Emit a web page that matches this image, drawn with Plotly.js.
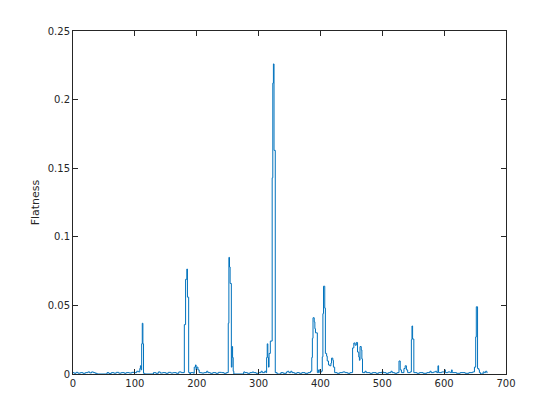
<!DOCTYPE html>
<html>
<head>
<meta charset="utf-8">
<script src="https://cdn.plot.ly/plotly-3.0.1.min.js"></script>
<style>html,body{margin:0;padding:0;background:#fff;}#chart{width:560px;height:420px;}</style>
</head>
<body>
<div id="chart"></div>
<script>
// Step breakpoints (frame index where each level starts) and flatness levels
const frameIdx = [0,2,5,8,12,16,20,24,27,30,33,36,39,55,58,62,66,70,74,78,83,86,91,95,99,103,106,108,109,110,111,112,113,114,116,
  130,134,138,141,145,150,154,158,162,167,171,175,180,182,184,185,187,189,190,195,196,198,199,200,202,204,208,212,216,218,222,226,231,235,240,244,248,
  251,252,253,254,256,257,258,259,260,276,278,282,286,290,292,296,300,304,306,310,312,313,314,315,316,317,319,322,323,324,325,327,330,
  336,340,345,347,349,352,354,358,362,366,370,375,380,384,386,387,388,390,391,392,395,397,399,401,403,404,405,407,408,410,411,413,415,417,418,420,421,423,
  427,431,436,440,444,448,452,454,456,458,460,462,463,464,466,467,468,472,474,480,484,490,494,500,501,506,510,514,516,520,524,527,529,531,535,537,539,541,545,
  547,548,549,551,556,560,566,572,577,579,583,586,588,590,591,596,601,602,606,610,612,613,620,626,634,640,646,649,651,652,654,656,657,659,663,665,667,669,670];
const flatness = [0.001,0.0005,0.0012,0.0006,0.001,0.0005,0.001,0.0015,0.0008,0.0015,0.001,0.0005,0,0.001,0.0004,0.001,0.0006,0.0012,0.0006,0.001,0.0005,0.001,0.0007,0.0012,0.001,0.002,0.0015,0.004,0.006,0.003,0.022,0.037,0.022,0.0005,0,
  0.001,0.0005,0.0015,0.0007,0.001,0.0005,0.0012,0.0007,0.001,0.0005,0.0015,0.001,0.036,0.069,0.0765,0.056,0.001,0,0.001,0.0005,0.005,0.0066,0.003,0.005,0.003,0.001,0.0007,0.001,0.002,0.001,0.0005,0.001,0.0005,0.0012,0.001,0.0005,0.001,
  0.037,0.085,0.078,0.066,0.005,0.02,0.012,0.002,0,0.0015,0.001,0.0005,0.001,0.0015,0.001,0.0005,0.001,0.002,0.001,0.002,0.001,0.012,0.022,0.012,0.005,0.015,0.024,0.143,0.212,0.226,0.163,0.001,0,
  0.001,0.0005,0.0015,0.002,0.001,0.002,0.001,0.0005,0.001,0.0005,0.001,0.0005,0.001,0.002,0.012,0.026,0.041,0.038,0.033,0.03,0.001,0.003,0.001,0.002,0.0125,0.044,0.064,0.048,0.015,0.013,0.0095,0.0066,0.006,0.008,0.0116,0.01,0.005,0.001,
  0.0005,0.001,0.0015,0.001,0.0005,0.001,0.019,0.0226,0.021,0.023,0.016,0.0124,0.01,0.02,0.0175,0.011,0.001,0.002,0.001,0.0005,0.001,0.0005,0.001,0.002,0.001,0.0005,0.001,0.002,0.001,0.0005,0.001,0.0095,0.003,0.001,0.004,0.006,0.003,0.001,0.0015,
  0.025,0.035,0.0255,0.001,0.0005,0.001,0.0005,0.001,0.002,0.001,0.0015,0.002,0.001,0.006,0.001,0.0015,0.003,0.001,0.0015,0.001,0.003,0.001,0.0005,0.001,0.0005,0.001,0.0015,0.005,0.027,0.049,0.004,0.003,0.001,0,0.0015,0.001,0.002,0.001,0.001];

const xTicks = [0,100,200,300,400,500,600,700];
const yTicks = [0,0.05,0.1,0.15,0.2,0.25];
const yTickText = ['0','0.05','0.1','0.15','0.2','0.25'];
const yLabel = 'Flatness';

const axisCommon = {
  showline: true, linecolor: '#262626', linewidth: 1, mirror: 'ticks',
  ticks: 'inside', ticklen: 5, tickwidth: 1, tickcolor: '#262626',
  showgrid: false, zeroline: false,
  tickfont: {family: 'DejaVu Sans, sans-serif', size: 10, color: '#262626'}
};

Plotly.newPlot('chart', [{
  x: frameIdx, y: flatness, type: 'scatter', mode: 'lines',
  line: {shape: 'hv', color: '#0072BD', width: 1}, hoverinfo: 'skip'
}], {
  width: 560, height: 420,
  margin: {l: 73, r: 54, t: 31, b: 46},
  paper_bgcolor: '#ffffff', plot_bgcolor: '#ffffff',
  showlegend: false,
  xaxis: Object.assign({}, axisCommon, {range: [0, 700], tickvals: xTicks}),
  yaxis: Object.assign({}, axisCommon, {range: [0, 0.25], tickvals: yTicks, ticktext: yTickText,
    title: {text: yLabel, standoff: 5, font: {family: 'DejaVu Sans, sans-serif', size: 11, color: '#262626'}}})
}, {staticPlot: true, displayModeBar: false});
</script>
</body>
</html>
